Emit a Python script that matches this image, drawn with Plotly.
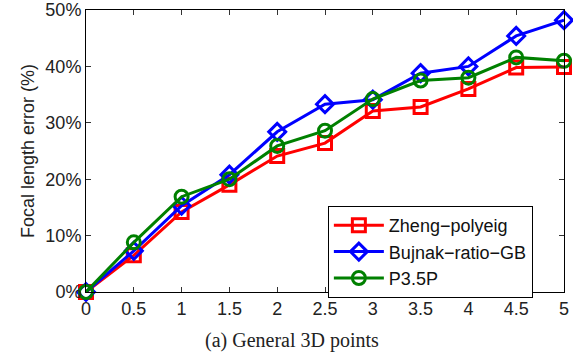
import plotly.graph_objects as go

x_vals = [0, 0.5, 1, 1.5, 2, 2.5, 3, 3.5, 4, 4.5, 5]
zheng = [0, 6.5, 14.2, 19.0, 24.1, 26.4, 32.1, 32.8, 36.0, 39.8, 39.9]
bujnak = [0, 7.3, 15.3, 20.8, 28.4, 33.3, 34.1, 38.8, 40.0, 45.4, 48.2]
p35p = [0, 8.8, 16.9, 20.0, 25.9, 28.6, 34.2, 37.5, 38.0, 41.6, 41.0]
names = ["Zheng\u2212polyeig", "Bujnak\u2212ratio\u2212GB", "P3.5P"]
x_ticks = ["0", "0.5", "1", "1.5", "2", "2.5", "3", "3.5", "4", "4.5", "5"]
y_ticks = [0, 10, 20, 30, 40, 50]
y_labels = ["0%", "10%", "20%", "30%", "40%", "50%"]

fig = go.Figure()
series = [(zheng, names[0], "#ff0000", "square-open"),
          (bujnak, names[1], "#0000ff", "diamond-open"),
          (p35p, names[2], "#008000", "circle-open")]
for ys, nm, col, sym in series:
    fig.add_trace(go.Scatter(
        x=x_vals, y=ys, name=nm, mode="lines+markers",
        line=dict(color=col, width=3),
        marker=dict(symbol=sym, size=13, color=col, line=dict(color=col, width=3)),
        cliponaxis=False))

fig.update_layout(
    width=573, height=357,
    margin=dict(l=86, r=9, t=10, b=65),
    plot_bgcolor="white", paper_bgcolor="white",
    font=dict(family="Liberation Sans, Arial", size=18, color="#222"),
    showlegend=True,
    legend=dict(x=0.506, y=0.305, xanchor="left", yanchor="top",
                bgcolor="white", bordercolor="black", borderwidth=1,
                font=dict(size=18, color="#111"), tracegroupgap=0,
                itemwidth=50),
    xaxis=dict(range=[0, 5], tickmode="array", tickvals=x_vals, ticktext=x_ticks,
               showgrid=False, zeroline=False, showline=True, linecolor="black",
               linewidth=1, mirror="ticks", ticks="inside", ticklen=5,
               tickcolor="#333", tickfont=dict(size=18), automargin=False),
    yaxis=dict(range=[0, 50], tickmode="array", tickvals=y_ticks, ticktext=y_labels,
               showgrid=False, zeroline=False, showline=True, linecolor="black",
               linewidth=1, mirror="ticks", ticks="inside", ticklen=5,
               tickcolor="#333", tickfont=dict(size=18), automargin=False),
    annotations=[
        dict(text="Focal length error (%)", textangle=-90, x=(28 - 86) / 478, y=0.5,
             xanchor="center", yanchor="middle",
             xref="paper", yref="paper", showarrow=False,
             font=dict(size=18, color="#222")),
        dict(text="(a) General 3D points", x=(292 - 86) / 478, y=(292 - 340) / 282,
             xanchor="center", yanchor="middle",
             xref="paper", yref="paper", showarrow=False,
             font=dict(family="Liberation Serif, Times New Roman", size=20, color="#222")),
    ],
)

fig.write_html("out.html", config={"displayModeBar": False},
               post_script="document.body.style.margin='0';")
